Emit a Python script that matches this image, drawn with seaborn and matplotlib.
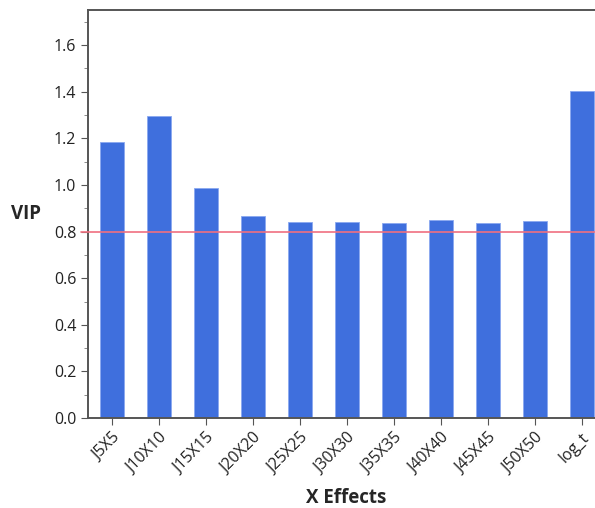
import matplotlib
matplotlib.use("Agg")
import matplotlib.pyplot as plt
import seaborn as sns
import pandas as pd
from matplotlib.ticker import MultipleLocator

effects = ["J5X5", "J10X10", "J15X15", "J20X20", "J25X25", "J30X30",
           "J35X35", "J40X40", "J45X45", "J50X50", "log_t"]
vip = [1.184, 1.295, 0.987, 0.867, 0.841, 0.841, 0.839, 0.848, 0.837, 0.845, 1.403]
threshold = 0.8

df = pd.DataFrame({"X Effects": effects, "VIP": vip})

sns.set_style("ticks")
plt.rcParams["font.family"] = ["Open Sans", "DejaVu Sans"]

fig = plt.figure(figsize=(5.95, 5.08), dpi=100)
ax = fig.add_axes([0.148, 0.177, 0.869, 0.803])

sns.barplot(data=df, x="X Effects", y="VIP", color="#3f6fdd", width=0.51,
            edgecolor="#8aa8f0", linewidth=0.6, saturation=1, ax=ax)
ax.axhline(threshold, xmin=-0.013, color="#f07080", lw=1.2, zorder=3,
           clip_on=False)

ax.set_ylim(0, 1.75)
ax.set_xlim(-0.51, 10.5)
ax.yaxis.set_major_locator(MultipleLocator(0.2))
ax.yaxis.set_minor_locator(MultipleLocator(0.1))
ax.yaxis.set_major_formatter(plt.FuncFormatter(lambda v, p: f"{v:.1f}"))
ax.tick_params(axis="both", which="major", labelsize=11.5, colors="#555555",
               labelcolor="#222222", length=5)
ax.tick_params(axis="y", which="minor", length=3, colors="#777777")
plt.setp(ax.get_xticklabels(), rotation=45, ha="right", rotation_mode="anchor")

for s in ax.spines.values():
    s.set_color("#555555")
    s.set_linewidth(1.4)

ax.set_ylabel("VIP", rotation=0, fontsize=13.5, fontweight="bold", labelpad=20,
              va="center")
ax.set_xlabel("X Effects", fontsize=13.5, fontweight="bold", labelpad=8)

fig.savefig("out.png", dpi=100)
